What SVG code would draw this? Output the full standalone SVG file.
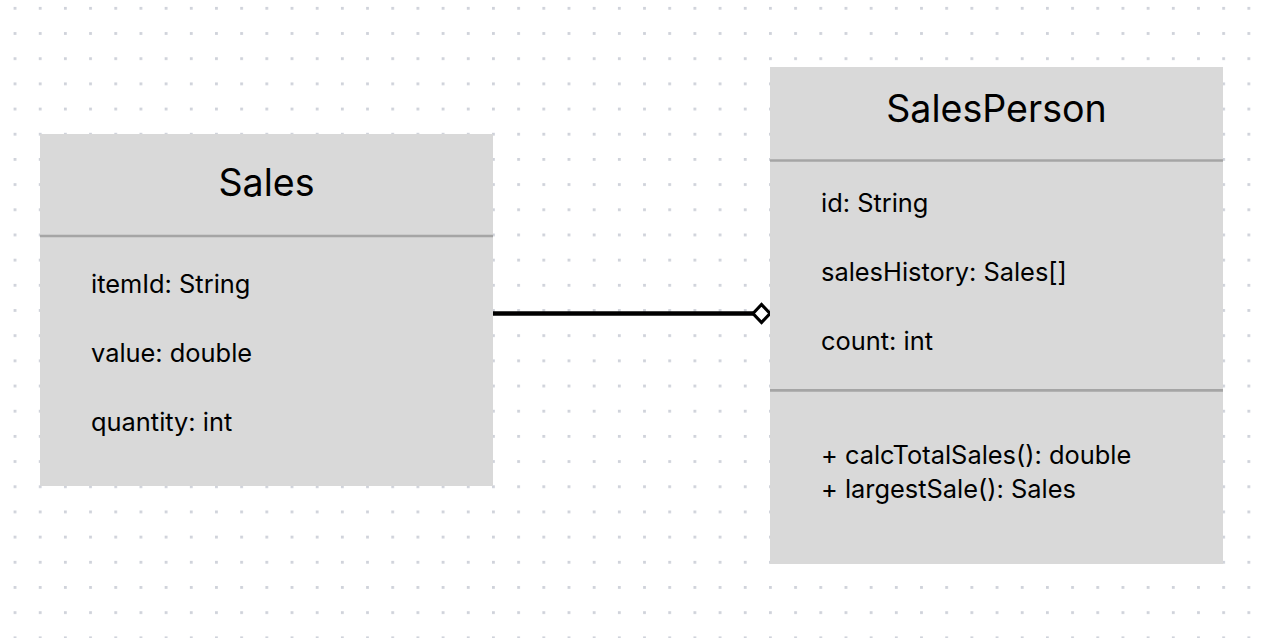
<svg xmlns="http://www.w3.org/2000/svg" width="1268" height="638" viewBox="0 0 1268 638">
<defs>
<pattern id="dots" patternUnits="userSpaceOnUse" x="13.6" y="6.9" width="25.18" height="25.18">
<rect x="0" y="0" width="2.8" height="2.8" fill="#cfd2da"/>
</pattern>
<marker id="diamond" viewBox="0 0 22 26" refX="19" refY="13" markerWidth="22" markerHeight="26" markerUnits="userSpaceOnUse" orient="auto">
<path d="M2,13 L10.5,4 L19,13 L10.5,22 Z" fill="#ffffff" stroke="#000000" stroke-width="3.2" stroke-linejoin="miter"/>
</marker>
</defs>
<style>
.box{fill:#d9d9d9;}
.div{stroke:#a5a5a5;stroke-width:2.7;}
.title{font-family:Inter,"Liberation Sans",sans-serif;font-size:37.6px;fill:#000;text-anchor:middle;}
.attr{font-family:Inter,"Liberation Sans",sans-serif;font-size:25.4px;fill:#000;}
</style>
<rect x="0" y="0" width="1268" height="638" fill="#ffffff"/>
<rect x="0" y="0" width="1268" height="638" fill="url(#dots)"/>
<g id="connectors">
<line x1="493" y1="313.5" x2="770" y2="313.5" stroke="#000" stroke-width="4.5" marker-end="url(#diamond)"/>
</g>
<g id="Sales">
<rect class="box" x="40" y="134" width="453" height="352"/>
<line class="div" x1="40" y1="236" x2="493" y2="236"/>
<text class="title" x="266.5" y="195.5">Sales</text>
<text class="attr" x="91" y="293">itemId: String</text>
<text class="attr" x="91" y="362">value: double</text>
<text class="attr" x="91" y="431">quantity: int</text>
</g>
<g id="SalesPerson">
<rect class="box" x="770" y="67" width="453" height="497"/>
<line class="div" x1="770" y1="160.5" x2="1223" y2="160.5"/>
<line class="div" x1="770" y1="390.3" x2="1223" y2="390.3"/>
<text class="title" x="996.5" y="121.5">SalesPerson</text>
<text class="attr" x="821" y="212">id: String</text>
<text class="attr" x="821" y="281">salesHistory: Sales[]</text>
<text class="attr" x="821" y="350">count: int</text>
<text class="attr" x="821" y="463.5">+ calcTotalSales(): double</text>
<text class="attr" x="821" y="497.5">+ largestSale(): Sales</text>
</g>
</svg>
